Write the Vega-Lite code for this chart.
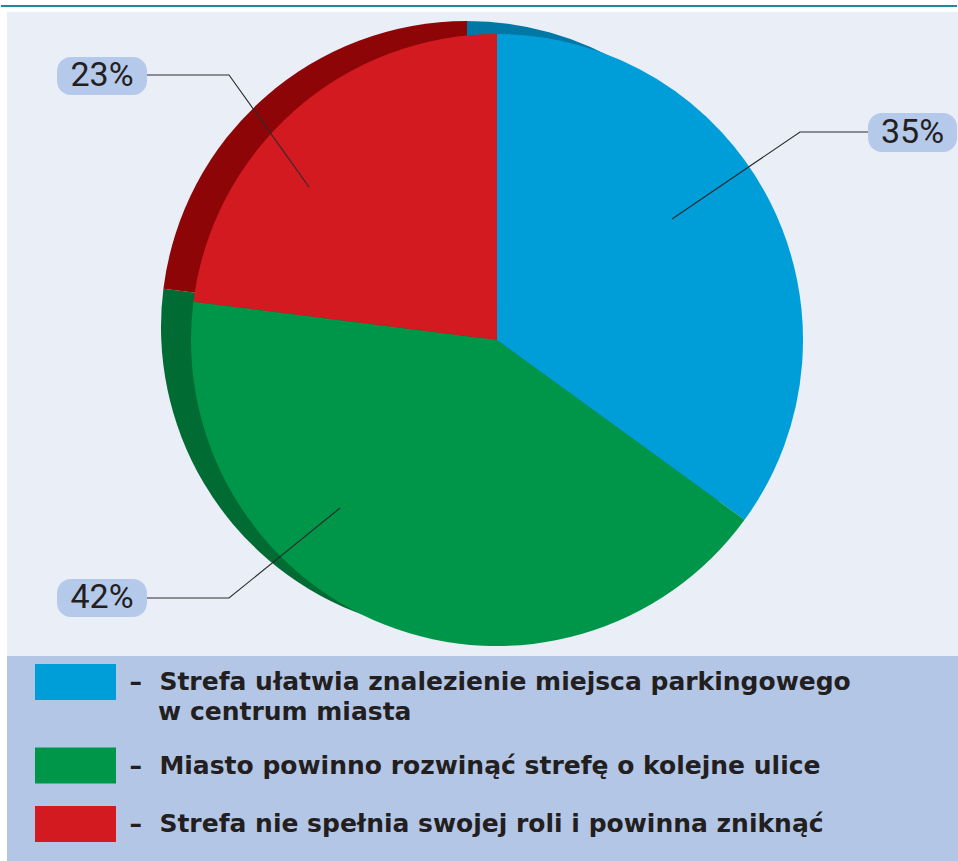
{
  "$schema": "https://vega.github.io/schema/vega-lite/v6.json",
  "background": "white",
  "padding": {"left": 0, "top": 5, "right": 0, "bottom": 0},
  "spacing": 0,
  "datasets": {
    "odpowiedzi": [
      {"nr": 1, "kategoria": "Strefa ułatwia znalezienie miejsca parkingowego w centrum miasta", "procent": 35},
      {"nr": 2, "kategoria": "Miasto powinno rozwinąć strefę o kolejne ulice", "procent": 42},
      {"nr": 3, "kategoria": "Strefa nie spełnia swojej roli i powinna zniknąć", "procent": 23}
    ],
    "etykiety": [
      {"etykieta": "23%", "x0": -1.4379, "x1": -1.1438, "y0": 0.8007, "y1": 0.9248, "xt": -1.2908, "yt": 0.8627},
      {"etykieta": "35%", "x0": 1.2124, "x1": 1.5033, "y0": 0.6144, "y1": 0.7418, "xt": 1.3578, "yt": 0.6781},
      {"etykieta": "42%", "x0": -1.4379, "x1": -1.1438, "y0": -0.9052, "y1": -0.7810, "xt": -1.2908, "yt": -0.8431}
    ],
    "linie": [
      {"etykieta": "23%", "punkt": 1, "x": -1.1438, "y": 0.8660},
      {"etykieta": "23%", "punkt": 2, "x": -0.8758, "y": 0.8660},
      {"etykieta": "23%", "punkt": 3, "x": -0.6144, "y": 0.5000},
      {"etykieta": "35%", "punkt": 1, "x": 1.2124, "y": 0.6797},
      {"etykieta": "35%", "punkt": 2, "x": 0.9902, "y": 0.6797},
      {"etykieta": "35%", "punkt": 3, "x": 0.5719, "y": 0.3954},
      {"etykieta": "42%", "punkt": 1, "x": -1.1438, "y": -0.8431},
      {"etykieta": "42%", "punkt": 2, "x": -0.8758, "y": -0.8431},
      {"etykieta": "42%", "punkt": 3, "x": -0.5131, "y": -0.5490}
    ]
  },
  "vconcat": [
    {
      "width": 951,
      "height": 644,
      "view": {"fill": "#e9eef7", "stroke": null},
      "layer": [
        {
          "data": {"values": [{}]},
          "mark": {"type": "rule", "color": "#1a8b9f", "strokeWidth": 2, "strokeCap": "butt"},
          "encoding": {
            "x": {"datum": -1.6209, "type": "quantitative", "axis": null, "scale": {"domain": [-1.6013, 1.5065], "nice": false, "zero": false}},
            "x2": {"datum": 1.5032},
            "y": {"datum": 1.0915, "type": "quantitative", "axis": null, "scale": {"domain": [-1.0327, 1.0719], "nice": false, "zero": false}}
          }
        },
        {
          "data": {"name": "odpowiedzi"},
          "mark": {"type": "arc", "radius": 306, "xOffset": -30, "yOffset": -13},
          "encoding": {
            "x": {"datum": 0, "type": "quantitative", "axis": null},
            "y": {"datum": 0, "type": "quantitative", "axis": null},
            "theta": {"field": "procent", "type": "quantitative", "stack": true},
            "order": {"field": "nr"},
            "color": {
              "field": "kategoria", "type": "nominal", "legend": null,
              "scale": {
                "domain": ["Strefa ułatwia znalezienie miejsca parkingowego w centrum miasta", "Miasto powinno rozwinąć strefę o kolejne ulice", "Strefa nie spełnia swojej roli i powinna zniknąć"],
                "range": ["#0077a4", "#006b32", "#8e0508"]
              }
            }
          }
        },
        {
          "data": {"name": "odpowiedzi"},
          "mark": {"type": "arc", "radius": 306},
          "encoding": {
            "x": {"datum": 0, "type": "quantitative", "axis": null},
            "y": {"datum": 0, "type": "quantitative", "axis": null},
            "theta": {"field": "procent", "type": "quantitative", "stack": true},
            "order": {"field": "nr"},
            "color": {
              "field": "kategoria", "type": "nominal", "legend": null,
              "scale": {
                "domain": ["Strefa ułatwia znalezienie miejsca parkingowego w centrum miasta", "Miasto powinno rozwinąć strefę o kolejne ulice", "Strefa nie spełnia swojej roli i powinna zniknąć"],
                "range": ["#009ed9", "#00964a", "#d41a21"]
              }
            }
          }
        },
        {
          "data": {"name": "linie"},
          "mark": {"type": "line", "stroke": "#2b2b2b", "strokeWidth": 1.1},
          "encoding": {
            "x": {"field": "x", "type": "quantitative", "axis": null},
            "y": {"field": "y", "type": "quantitative", "axis": null},
            "detail": {"field": "etykieta"},
            "order": {"field": "punkt"}
          }
        },
        {
          "data": {"name": "etykiety"},
          "mark": {"type": "rect", "fill": "#b5c9ea", "cornerRadius": 14},
          "encoding": {
            "x": {"field": "x0", "type": "quantitative", "axis": null},
            "x2": {"field": "x1"},
            "y": {"field": "y0", "type": "quantitative", "axis": null},
            "y2": {"field": "y1"}
          }
        },
        {
          "data": {"name": "etykiety"},
          "mark": {"type": "text", "font": "Roboto", "fontSize": 34, "color": "#231f20", "align": "center", "baseline": "middle"},
          "encoding": {
            "x": {"field": "xt", "type": "quantitative", "axis": null},
            "y": {"field": "yt", "type": "quantitative", "axis": null},
            "text": {"field": "etykieta"}
          }
        }
      ],
      "resolve": {"scale": {"color": "independent"}}
    },
    {
      "width": 951,
      "height": 205,
      "view": {"fill": "#b4c6e6", "stroke": null},
      "data": {"name": "odpowiedzi"},
      "mark": {"type": "square", "opacity": 0},
      "encoding": {
        "color": {
          "field": "kategoria", "type": "nominal",
          "scale": {
            "domain": ["Strefa ułatwia znalezienie miejsca parkingowego w centrum miasta", "Miasto powinno rozwinąć strefę o kolejne ulice", "Strefa nie spełnia swojej roli i powinna zniknąć"],
            "range": ["#009ed9", "#00964a", "#d41a21"]
          },
          "legend": {
            "title": null,
            "orient": "none",
            "legendX": 28,
            "legendY": 652,
            "padding": 0,
            "rowPadding": 22.5,
            "symbolType": "M-2.25,-1H2.25V1H-2.25Z",
            "symbolSize": 1296,
            "symbolOffset": 22.5,
            "symbolOpacity": 1,
            "symbolStrokeWidth": 0,
            "labelOffset": 36,
            "labelFont": "DejaVu Sans",
            "labelFontSize": 25,
            "labelFontWeight": "bold",
            "labelColor": "#231f20",
            "labelLimit": 0,
            "labelBaseline": "alphabetic",
            "labelExpr": "datum.label == 'Strefa ułatwia znalezienie miejsca parkingowego w centrum miasta' ? ['–\u00a0\u00a0Strefa ułatwia znalezienie miejsca parkingowego', '\u200b\u00a0\u00a0\u00a0\u200aw centrum miasta'] : '–\u00a0\u00a0' + datum.label",
            "encode": {"labels": {"update": {"dy": {"value": 8}, "lineHeight": {"value": 30}}}}
          }
        }
      }
    }
  ]
}
